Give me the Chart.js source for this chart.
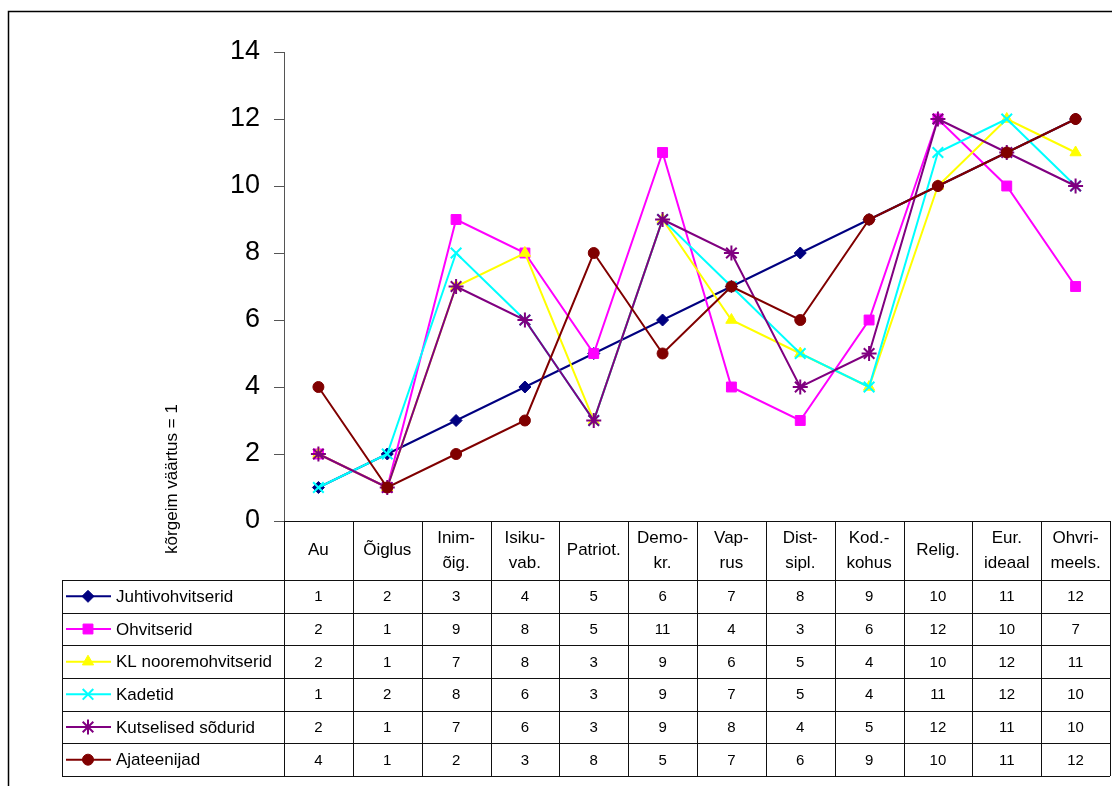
<!DOCTYPE html>
<html>
<head>
<meta charset="utf-8">
<script src="https://cdn.jsdelivr.net/npm/chart.js@4/dist/chart.umd.min.js"></script>
<style>
  body { margin: 0; background: #fff; }
  canvas { display: block; }
</style>
</head>
<body>
<canvas id="valuesChart" width="1112" height="786"></canvas>
<script>
// categories (header cells of the data table, split into lines)
const categories = [
    ['Au'], ['Õiglus'], ['Inim-', 'õig.'], ['Isiku-', 'vab.'], ['Patriot.'], ['Demo-', 'kr.'],
    ['Vap-', 'rus'], ['Dist-', 'sipl.'], ['Kod.-', 'kohus'], ['Relig.'], ['Eur.', 'ideaal'], ['Ohvri-', 'meels.']
];

// series values (rank, highest value = 1)
const juhtivohvitserid   = [1, 2, 3, 4, 5, 6, 7, 8, 9, 10, 11, 12];
const ohvitserid         = [2, 1, 9, 8, 5, 11, 4, 3, 6, 12, 10, 7];
const klNooremohvitserid = [2, 1, 7, 8, 3, 9, 6, 5, 4, 10, 12, 11];
const kadetid            = [1, 2, 8, 6, 3, 9, 7, 5, 4, 11, 12, 10];
const kutselisedSodurid  = [2, 1, 7, 6, 3, 9, 8, 4, 5, 12, 11, 10];
const ajateenijad        = [4, 1, 2, 3, 8, 5, 7, 6, 9, 10, 11, 12];

const seriesNames = ['Juhtivohvitserid', 'Ohvitserid', 'KL nooremohvitserid', 'Kadetid', 'Kutselised sõdurid', 'Ajateenijad'];
const yTicks = [0, 2, 4, 6, 8, 10, 12, 14];
const yTitle = 'kõrgeim väärtus = 1';

const FONT = "'Liberation Sans', Arial, sans-serif";

function makeSeries(i, data, color, style, radius, markerLine) {
    return {
        label: seriesNames[i],
        data: data,
        borderColor: color,
        backgroundColor: color,
        pointBackgroundColor: color,
        pointBorderColor: color,
        pointStyle: style,
        pointRadius: radius,
        pointBorderWidth: markerLine,
        borderWidth: 2,
        tension: 0,
        order: 6 - i // later series drawn on top, like Excel
    };
}

function marker(ctx, style, radius, width, x, y) {
    if (Chart.helpers && Chart.helpers.drawPoint) {
        Chart.helpers.drawPoint(ctx, { pointStyle: style, radius: radius, borderWidth: width, rotation: 0 }, x, y);
    } else {
        ctx.beginPath();
        ctx.arc(x, y, radius, 0, Math.PI * 2);
        ctx.fill();
    }
}

// draws the frame, the y title and the data table under the plot
const tablePlugin = {
    id: 'dataTable',
    afterDraw(chart) {
        const ctx = chart.ctx;
        const a = chart.chartArea;
        const xs = chart.scales.x;
        const n = categories.length;
        const colW = (a.right - a.left) / n;
        const headTop = a.bottom;
        const headBot = 580;
        const rowH = 32.67;
        const tableLeft = 62;
        const sets = chart.data.datasets;
        const tableBot = headBot + sets.length * rowH;

        ctx.save();

        // outer chart frame
        ctx.strokeStyle = '#000';
        ctx.lineWidth = 1.5;
        ctx.beginPath();
        ctx.moveTo(8.5, 786);
        ctx.lineTo(8.5, 11.5);
        ctx.lineTo(1112, 11.5);
        ctx.stroke();

        // y title
        ctx.fillStyle = '#000';
        ctx.font = '17px ' + FONT;
        ctx.textAlign = 'center';
        ctx.textBaseline = 'middle';
        ctx.save();
        ctx.translate(172, 479);
        ctx.rotate(-Math.PI / 2);
        ctx.fillText(yTitle, 0, 0);
        ctx.restore();

        // table grid
        ctx.strokeStyle = '#111';
        ctx.lineWidth = 1;
        ctx.beginPath();
        for (let i = 0; i <= n; i++) {
            const px = Math.round(a.left + i * colW) + 0.5;
            ctx.moveTo(px, headTop);
            ctx.lineTo(px, tableBot);
        }
        ctx.moveTo(a.left, Math.round(headTop) + 0.5);
        ctx.lineTo(a.right, Math.round(headTop) + 0.5);
        for (let r = 0; r <= sets.length; r++) {
            const py = Math.round(headBot + r * rowH) + 0.5;
            ctx.moveTo(tableLeft, py);
            ctx.lineTo(a.right, py);
        }
        ctx.moveTo(tableLeft + 0.5, headBot);
        ctx.lineTo(tableLeft + 0.5, tableBot);
        ctx.stroke();

        // header cells
        ctx.fillStyle = '#000';
        ctx.font = '17px ' + FONT;
        ctx.textAlign = 'center';
        ctx.textBaseline = 'middle';
        const headMid = (headTop + headBot) / 2;
        categories.forEach((lines, i) => {
            const cx = xs.getPixelForValue(i);
            const start = headMid - (lines.length - 1) * 12.5;
            lines.forEach((t, k) => ctx.fillText(t, cx, start + k * 25));
        });

        // rows: legend key + values
        sets.forEach((ds, r) => {
            const cy = headBot + r * rowH + rowH / 2;
            ctx.strokeStyle = ds.borderColor;
            ctx.lineWidth = 2;
            ctx.beginPath();
            ctx.moveTo(66, cy);
            ctx.lineTo(111, cy);
            ctx.stroke();
            ctx.fillStyle = ds.borderColor;
            ctx.lineWidth = ds.pointBorderWidth;
            marker(ctx, ds.pointStyle, ds.pointRadius, ds.pointBorderWidth, 88, cy);

            ctx.fillStyle = '#000';
            ctx.font = '17px ' + FONT;
            ctx.textAlign = 'left';
            ctx.fillText(ds.label, 116, cy + 1);

            ctx.font = '15px ' + FONT;
            ctx.textAlign = 'center';
            ds.data.forEach((v, i) => {
                ctx.fillText(String(v), xs.getPixelForValue(i), cy + 1);
            });
        });

        ctx.restore();
    }
};

const ctx = document.getElementById('valuesChart').getContext('2d');

const data = {
    labels: categories.map(c => c.join(' ')),
    datasets: [
        makeSeries(0, juhtivohvitserid, '#000080', 'rectRot', 6, 1),
        makeSeries(1, ohvitserid, '#FF00FF', 'rect', 7, 1),
        makeSeries(2, klNooremohvitserid, '#FFFF00', 'triangle', 6.5, 1),
        makeSeries(3, kadetid, '#00FFFF', 'crossRot', 7.5, 2),
        makeSeries(4, kutselisedSodurid, '#800080', 'star', 7.5, 2),
        makeSeries(5, ajateenijad, '#800000', 'circle', 5.5, 1)
    ]
};

const config = {
    type: 'line',
    data: data,
    options: {
        responsive: false,
        animation: false,
        layout: {
            autoPadding: false,
            padding: { left: 0, top: 52, right: 2, bottom: 265 }
        },
        plugins: {
            legend: { display: false },
            tooltip: { enabled: false }
        },
        scales: {
            x: {
                display: false,
                offset: true
            },
            y: {
                min: 0,
                max: 14,
                afterBuildTicks: scale => {
                    scale.ticks = yTicks.map(v => ({ value: v }));
                },
                afterFit: scale => {
                    scale.width = 284;
                },
                ticks: {
                    color: '#000',
                    padding: 14,
                    font: { family: FONT, size: 27 }
                },
                grid: {
                    drawOnChartArea: false,
                    tickLength: 10,
                    color: '#555'
                },
                border: { color: '#555' }
            }
        }
    },
    plugins: [tablePlugin]
};

const valuesChart = new Chart(ctx, config);
</script>
</body>
</html>
